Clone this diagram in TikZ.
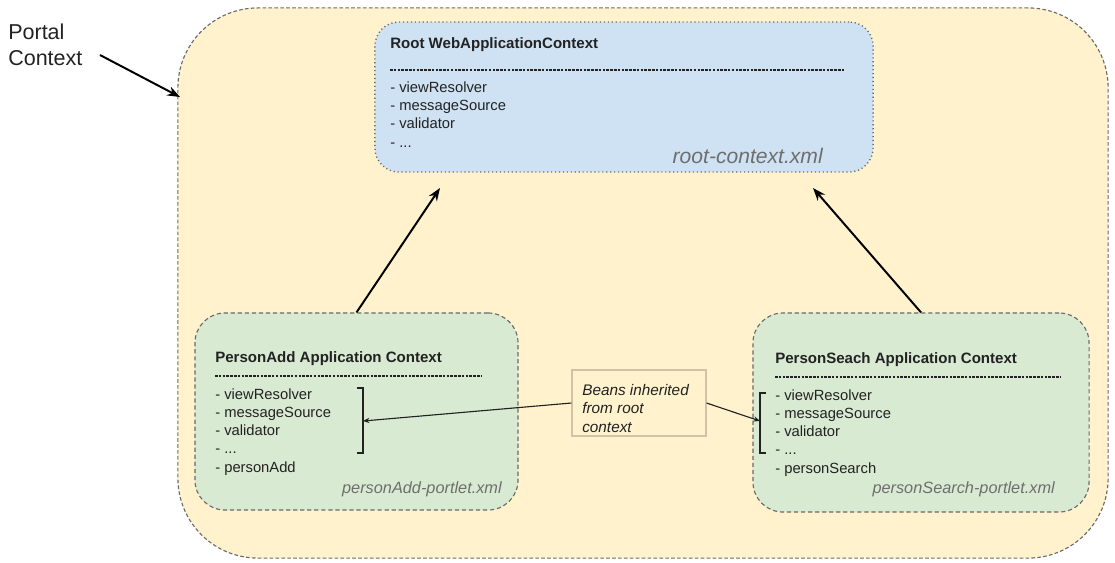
\documentclass[tikz,border=0pt]{standalone}
\usepackage{fontspec}
\setmainfont{Liberation Sans}
\usetikzlibrary{arrows.meta,positioning}
\definecolor{portalfill}{HTML}{FFF2CC}
\definecolor{rootfill}{HTML}{CFE2F3}
\definecolor{ctxfill}{HTML}{D9EAD3}
\definecolor{edgegray}{HTML}{6A6A6A}
\definecolor{inkgray}{HTML}{222222}
\definecolor{filegray}{HTML}{6E6E6E}
\definecolor{notegray}{HTML}{CFC3A8}

\begin{document}
\begin{tikzpicture}[x=0.025cm,y=-0.025cm,
  frame/.style={draw=edgegray,line width=0.8pt,inner sep=0pt},
  ctx/.style={frame,fill=ctxfill,dash pattern=on 3pt off 2pt,rounded corners=0.75cm},
  heading/.style={anchor=base west,inner sep=0pt,text=inkgray,font=\fontsize{10.7}{12.8}\selectfont\bfseries},
  beans/.style={anchor=base west,inner sep=0pt,text=inkgray,align=left,font=\fontsize{10.5}{12.9}\selectfont},
  xmlfile/.style={anchor=base east,inner sep=0pt,text=filegray,font=\fontsize{11.6}{13}\selectfont\itshape},
  sepline/.style={draw=inkgray,line width=0.8pt,dash pattern=on 1.8pt off 0.9pt},
  arrow/.style={-{Stealth[length=3.2mm,width=2.4mm]},line width=1.4pt,draw=black},
  thinarrow/.style={-{Stealth[length=1.6mm,width=1.3mm]},line width=0.8pt,draw=inkgray},
  bracket/.style={draw=inkgray,line width=0.8pt}
]
\useasboundingbox (0,0) rectangle (1115,562);
% portal context
\node[frame,fill=portalfill,dash pattern=on 2.6pt off 1.6pt,rounded corners=2cm,
  minimum width=23.25cm,minimum height=13.75cm] (portal) at (643,283) {};
\node[anchor=base west,inner sep=0pt,align=left,text=inkgray,
  font=\fontsize{15.3}{17.8}\selectfont] (portaltxt) at (8,65) {Portal\\Context};
\coordinate (portaledge) at (180,97);
\draw[arrow] (100,55) coordinate (portalfrom) -- (portaledge);

% root context
\node[frame,fill=rootfill,dotted,line width=1pt,rounded corners=0.6cm,
  minimum width=12.45cm,minimum height=3.75cm] (root) at (624,97) {};
\node[heading] (roottitle) at (390,48) {Root WebApplicationContext};
\draw[sepline] (390,70) -- (845,70);
\node[beans] (rootbeans) at (390,147) {- viewResolver\\- messageSource\\- validator\\- ...};
\node[xmlfile,font=\fontsize{15}{17}\selectfont\itshape] (rootxml) at (823,163) {root-context.xml};

% personAdd context
\node[ctx,minimum width=8.075cm,minimum height=4.925cm] (add) at (356.5,411.5) {};
\node[heading] (addtitle) at (215,362) {PersonAdd Application Context};
\draw[sepline] (215,376) -- (482,376);
\node[beans] (addbeans) at (215,472) {- viewResolver\\- messageSource\\- validator\\- ...\\- personAdd};
\node[xmlfile] (addxml) at (502,493) {personAdd-portlet.xml};
\draw[bracket] (357,388) -- (363,388) -- (363,453) -- (357,453);
\coordinate (addmid) at (363,421);

% personSearch context
\node[ctx,minimum width=8.4cm,minimum height=4.975cm] (search) at (921,412.5) {};
\node[heading] (searchtitle) at (775,363) {PersonSeach Application Context};
\draw[sepline] (775,377) -- (1060,377);
\node[beans] (searchbeans) at (775,473) {- viewResolver\\- messageSource\\- validator\\- ...\\- personSearch};
\node[xmlfile] (searchxml) at (1055,493) {personSearch-portlet.xml};
\draw[bracket] (766,393) -- (760,393) -- (760,453) -- (766,453);
\coordinate (searchmid) at (760,421);

% note
\node[draw=notegray,line width=0.8pt,fill=portalfill,minimum width=3.35cm,minimum height=1.65cm] (note) at (639,403) {};
\node[anchor=base west,inner sep=0pt,align=left,text=inkgray,
  font=\fontsize{10.9}{12.9}\selectfont\itshape] (notetxt) at (582,432) {Beans inherited\\from root\\context};
\draw[thinarrow] (note.west) -- (addmid);
\draw[thinarrow] (note.east) -- (searchmid);

% inheritance arrows
\coordinate (rootleft) at (440,188);
\coordinate (rootright) at (813,188);
\draw[arrow] (add.north) -- (rootleft);
\draw[arrow] (search.north) -- (rootright);
\end{tikzpicture}
\end{document}
